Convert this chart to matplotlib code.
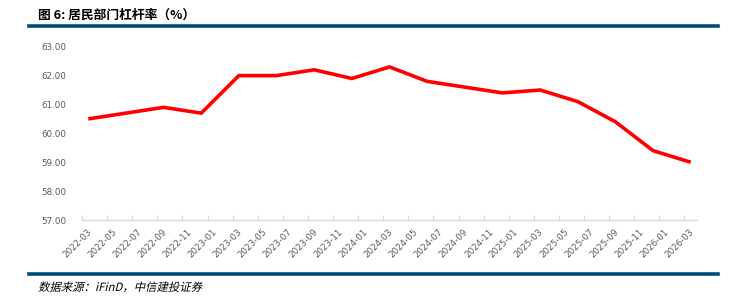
import numpy as np
import pandas as pd
import matplotlib
matplotlib.use('Agg')
import matplotlib.pyplot as plt
import matplotlib.transforms as mtransforms
from matplotlib.lines import Line2D
from matplotlib.textpath import TextPath
from matplotlib.patches import PathPatch
from matplotlib.font_manager import FontProperties

plt.rcParams['font.family'] = ['Noto Sans CJK SC', 'DejaVu Sans']

# quarterly household leverage ratio (%)
dates = ['2022-03', '2022-09', '2022-12', '2023-03', '2023-06', '2023-09', '2023-12',
         '2024-03', '2024-06', '2024-12', '2025-03', '2025-06', '2025-09', '2025-12', '2026-03']
values = [60.5, 60.9, 60.7, 62.0, 62.0, 62.2, 61.9,
          62.3, 61.8, 61.4, 61.5, 61.1, 60.4, 59.4, 59.0]
tick_labels = [str(p) for p in pd.period_range('2022-03', '2026-03', freq='2M')]
yticks = [57, 58, 59, 60, 61, 62, 63]

start = pd.Period('2022-03', freq='M')
def month_idx(s):
    return (pd.Period(s, freq='M') - start).n

xs = np.array([month_idx(d) for d in dates]) + 0.5
tick_pos = [month_idx(t) for t in tick_labels]

W, H = 737, 302
fig = plt.figure(figsize=(W / 100, H / 100), dpi=100)
ax = fig.add_axes([82 / W, 1 - 220 / H, (697 - 82) / W, (220 - 46.7) / H])

ax.plot(xs, values, color='#FF0000', lw=2.6, solid_joinstyle='miter', solid_capstyle='butt')
ax.set_xlim(0, month_idx('2026-03') + 1)
ax.set_ylim(57, 63)

ax.set_yticks(yticks)
ax.set_yticklabels(['%.2f' % v for v in yticks], fontsize=6.3, color='#595959',
                   family=['DejaVu Sans'])
ax.tick_params(axis='y', length=0, pad=11)

ax.set_xticks(tick_pos)
ax.set_xticklabels(tick_labels, rotation=45, ha='right', rotation_mode='anchor',
                   fontsize=6.3, color='#595959', family=['DejaVu Sans'])
ax.tick_params(axis='x', direction='in', length=3.5, color='#D9D9D9', pad=5)
shift = mtransforms.ScaledTranslation(5 / 100, 0, fig.dpi_scale_trans)
for lab in ax.get_xticklabels():
    lab.set_transform(lab.get_transform() + shift)

for s in ['top', 'right', 'left']:
    ax.spines[s].set_visible(False)
ax.spines['bottom'].set_color('#D9D9D9')
ax.spines['bottom'].set_linewidth(1.0)

blue = '#004B7D'
fig.add_artist(Line2D([29 / W, 718 / W], [1 - 26 / H, 1 - 26 / H], color=blue, lw=2.6))
fig.add_artist(Line2D([29 / W, 718 / W], [1 - 273.5 / H, 1 - 273.5 / H], color=blue, lw=2.6))

fig.text(38 / W, 1 - 15 / H, '图 6: 居民部门杠杆率（%）', fontsize=9.2, fontweight='bold',
         va='center', ha='left', color='#000000')

# source note in slanted type (CJK font has no italic face, so skew the glyph outlines)
src = '数据来源：iFinD，中信建投证券'
size_px = 8.2 * 100 / 72
tp = TextPath((0, 0), src, size=size_px, prop=FontProperties(family='Noto Sans CJK SC'))
trans = mtransforms.Affine2D().skew_deg(14, 0).translate(38, H - 291)
fig.add_artist(PathPatch(tp, transform=trans, facecolor='#000000', edgecolor='none'))

fig.savefig('out.png', dpi=100)
